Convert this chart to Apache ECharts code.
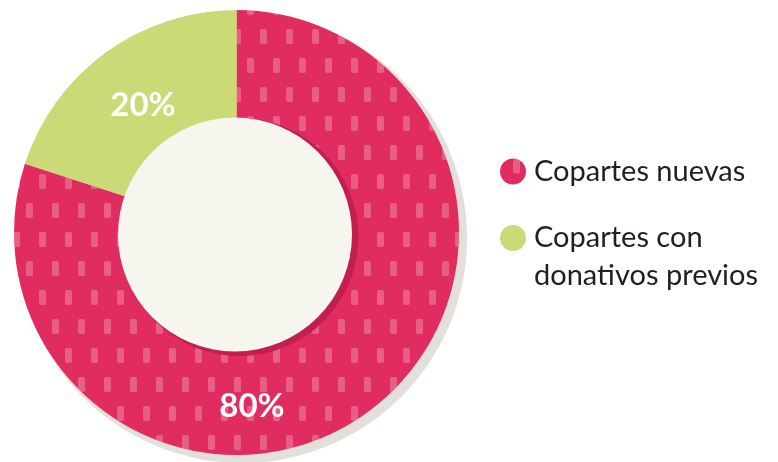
<!DOCTYPE html>
<html>
<head>
<meta charset="utf-8">
<script src="https://cdn.jsdelivr.net/npm/echarts@6/dist/echarts.min.js"></script>
<style>
html,body{margin:0;padding:0;background:#fff;}
#chart{width:778px;height:462px;}
</style>
</head>
<body>
<div id="chart"></div>
<script>
var categories = ['Copartes nuevas', 'Copartes con donativos previos'];
var values = [80, 20];
var legendLines = ['Copartes nuevas', 'Copartes con\ndonativos previos'];
var colors = ['#e12c5f', '#cbd977'];

var chart = echarts.init(document.getElementById('chart'));
var font = 'Lato';

var pieData = categories.map(function (c, i) {
  var d = { name: c, value: values[i], itemStyle: { color: colors[i] } };
  if (i === 0) {
    d.itemStyle.decal = {
      symbol: 'roundRect',
      symbolSize: 1,
      symbolKeepAspect: false,
      color: 'rgba(255,255,255,0.24)',
      dashArrayX: [[7, 19], [0, 13, 7, 6]],
      dashArrayY: [15, 14],
      rotation: 0
    };
  }
  return d;
});

var labelPos = [[252, 406], [143, 105]];

chart.setOption({
  animation: false,
  legend: [
    {
      data: [categories[0]],
      orient: 'vertical', left: 500, top: 157, padding: 0,
      icon: 'circle', itemWidth: 26, itemHeight: 26,
      selectedMode: false,
      formatter: function () { return legendLines[0]; },
      textStyle: { fontFamily: font, fontSize: 29, color: '#231f20', padding: [0, 0, 0, 3] }
    },
    {
      data: [categories[1]],
      orient: 'vertical', left: 500, top: 181, padding: 0,
      icon: 'circle', itemWidth: 26, itemHeight: 26,
      selectedMode: false,
      formatter: function () { return '\n' + legendLines[1]; },
      textStyle: { fontFamily: font, fontSize: 29, lineHeight: 38, color: '#231f20', padding: [0, 0, 0, 3] }
    }
  ],
  series: [
    {
      type: 'pie', silent: true, z: 1,
      center: [242, 238], radius: [0, 225],
      label: { show: false }, labelLine: { show: false },
      data: [{ value: 1, name: '_s', itemStyle: { color: '#e3e0dc' } }]
    },
    {
      type: 'pie', silent: true, z: 2,
      center: [236.5, 232.5], radius: [0, 222.5],
      startAngle: 90, clockwise: true,
      data: pieData,
      label: {
        show: true, position: 'inside',
        formatter: '{c}%',
        fontFamily: font, fontWeight: 'bold', fontSize: 33, color: '#ffffff'
      },
      labelLine: { show: false },
      labelLayout: function (p) {
        var pos = labelPos[p.dataIndex];
        return { x: pos[0], y: pos[1], align: 'center', verticalAlign: 'middle' };
      }
    },
    {
      type: 'pie', silent: true, z: 3,
      center: [239.5, 237], radius: [0, 119],
      label: { show: false }, labelLine: { show: false },
      data: [{ value: 1, name: '_d', itemStyle: { color: '#c01f4f' } }]
    },
    {
      type: 'pie', silent: true, z: 4,
      center: [235, 234.5], radius: [0, 117],
      label: { show: false }, labelLine: { show: false },
      data: [{ value: 1, name: '_i', itemStyle: { color: '#f6f5ee' } }]
    }
  ]
});
</script>
</body>
</html>
